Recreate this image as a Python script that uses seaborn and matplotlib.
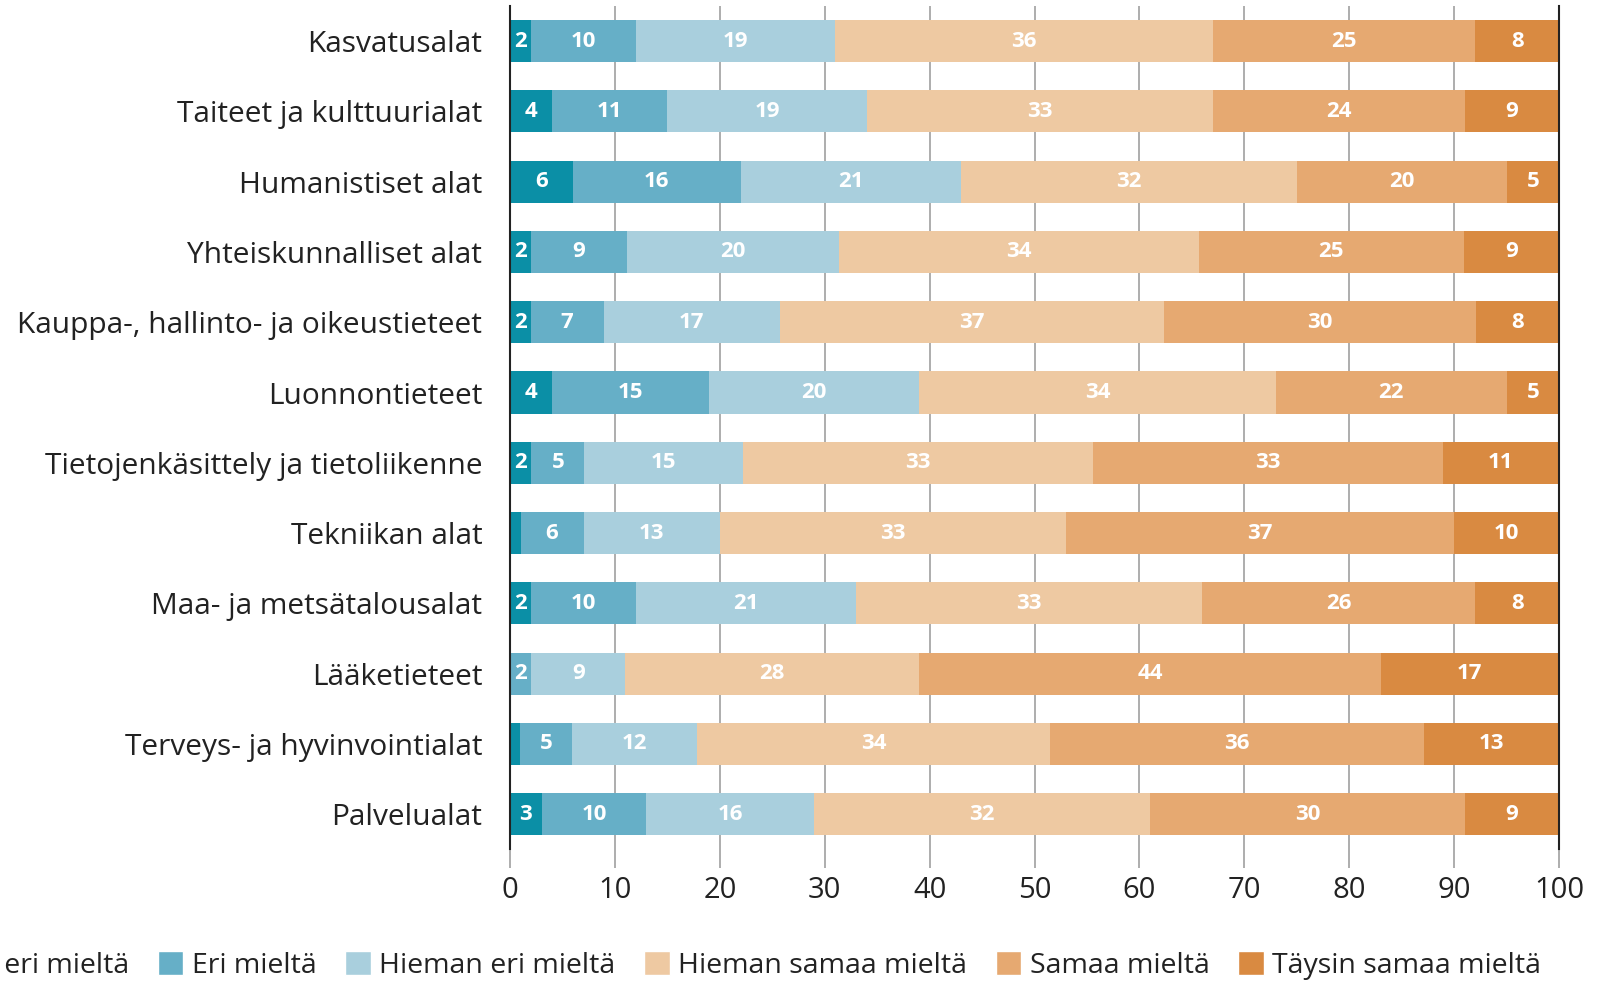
import numpy as np
import pandas as pd
import seaborn as sns
import matplotlib.pyplot as plt
from matplotlib.patches import Patch

sns.set_theme(style="white")
plt.rcParams['font.family'] = ['Open Sans', 'DejaVu Sans']

fields = ['Kasvatusalat', 'Taiteet ja kulttuurialat', 'Humanistiset alat',
          'Yhteiskunnalliset alat', 'Kauppa-, hallinto- ja oikeustieteet',
          'Luonnontieteet', 'Tietojenkäsittely ja tietoliikenne', 'Tekniikan alat',
          'Maa- ja metsätalousalat', 'Lääketieteet', 'Terveys- ja hyvinvointialat',
          'Palvelualat']
answers = ['Täysin eri mieltä', 'Eri mieltä', 'Hieman eri mieltä',
           'Hieman samaa mieltä', 'Samaa mieltä', 'Täysin samaa mieltä']

taysin_eri = [2, 4, 6, 2, 2, 4, 2, 1, 2, 0, 1, 3]
eri = [10, 11, 16, 9, 7, 15, 5, 6, 10, 2, 5, 10]
hieman_eri = [19, 19, 21, 20, 17, 20, 15, 13, 21, 9, 12, 16]
hieman_samaa = [36, 33, 32, 34, 37, 34, 33, 33, 33, 28, 34, 32]
samaa = [25, 24, 20, 25, 30, 22, 33, 37, 26, 44, 36, 30]
taysin_samaa = [8, 9, 5, 9, 8, 5, 11, 10, 8, 17, 13, 9]

colors = ['#0b8fa6', '#66afc7', '#a9cfdd', '#eec9a2', '#e6a971', '#d98a41']

vals = np.array([taysin_eri, eri, hieman_eri, hieman_samaa, samaa, taysin_samaa], dtype=float).T
shares = vals / vals.sum(axis=1, keepdims=True) * 100
cum = shares.cumsum(axis=1)

fig = plt.figure(figsize=(16.04, 9.82), dpi=100)
ax = fig.add_axes([0.318, 0.135, 0.654, 0.859])

# stacked bars: draw cumulative totals from the top category down
for k in range(len(answers) - 1, -1, -1):
    df = pd.DataFrame({'field': fields, 'value': cum[:, k]})
    sns.barplot(data=df, x='value', y='field', color=colors[k], orient='h',
                width=0.6, saturation=1, linewidth=0, ax=ax, zorder=2)

for i in range(len(fields)):
    for k in range(len(answers)):
        if vals[i, k] >= 2:
            cx = cum[i, k] - shares[i, k] / 2
            ax.text(cx, i, f'{int(vals[i, k])}', ha='center', va='center',
                    color='white', fontsize=16, fontweight='bold', zorder=3)

ax.set_xlim(0, 100)
ax.set_ylim(11.5, -0.5)
ax.set_xticks(range(0, 101, 10))
ax.set_xlabel('')
ax.set_ylabel('')
ax.xaxis.grid(True, color='#a0a0a0', linewidth=1.2, zorder=0)
ax.set_axisbelow(True)
for s in ['top', 'bottom']:
    ax.spines[s].set_visible(False)
for s in ['left', 'right']:
    ax.spines[s].set_color('#222222')
    ax.spines[s].set_linewidth(1.5)
ax.tick_params(axis='x', bottom=True, length=14, width=1.2, color='#a0a0a0',
               labelsize=21, pad=5, labelcolor='#222222')
ax.tick_params(axis='y', left=False, labelsize=21.5, pad=14, labelcolor='#222222')

handles = [Patch(facecolor=c, label=a) for c, a in zip(colors, answers)]
fig.legend(handles=handles, loc='center right', bbox_to_anchor=(0.968, 0.017),
           ncol=6, frameon=False, fontsize=20.5, handlelength=0.9, handleheight=0.9,
           handletextpad=0.3, columnspacing=1.0, borderaxespad=0, labelcolor='#222222')

fig.savefig('out.png', dpi=100)
